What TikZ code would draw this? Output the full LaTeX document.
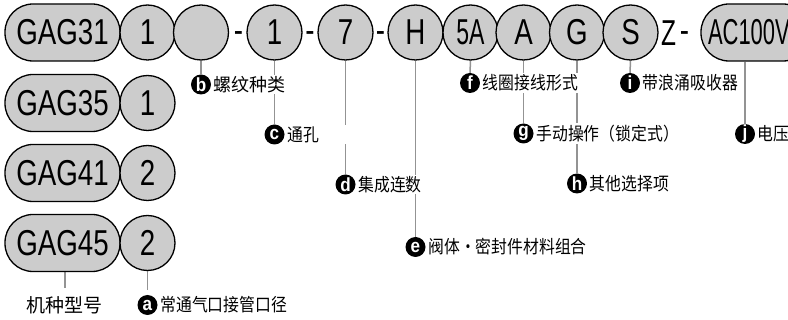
\documentclass[tikz,border=0pt]{standalone}
\usepackage{fontspec}
\setmainfont{Liberation Sans}
\newfontfamily\condf[FakeStretch=0.77]{Liberation Sans}
\newfontfamily\condfB[FakeStretch=0.64]{Liberation Sans}
\newfontfamily\condfC[FakeStretch=0.61]{Liberation Sans}
\newfontfamily\condfZ[FakeStretch=0.68]{Liberation Sans}
\newfontfamily\badgefont[FakeStretch=0.9]{Liberation Sans Bold}
\newfontfamily\cjkn[FakeStretch=0.88]{Noto Sans CJK SC}
\newfontfamily\cjkw{Noto Sans CJK SC}
\newcommand{\bigf}{\condf\fontsize{36}{40}\selectfont}
\definecolor{segfill}{HTML}{CCCCCC}
\definecolor{leadgray}{HTML}{939393}
\pgfdeclarelayer{bg}
\pgfsetlayers{bg,main}
\tikzset{
  seg/.style={circle, draw=black, line width=1.3pt, fill=segfill, minimum size=55pt, inner sep=0pt, font=\bigf},
  model/.style={rectangle, rounded corners=28pt, draw=black, line width=1.3pt, fill=segfill, minimum width=115pt, minimum height=57pt, inner sep=0pt, font=\bigf},
  sep/.style={inner sep=0pt, anchor=base, font=\bigf},
  badge/.style={circle, fill=black, text=white, minimum size=20pt, inner sep=0pt, font=\badgefont\fontsize{19}{20}\selectfont},
  lbl/.style={anchor=west, fill=white, inner xsep=2.5pt, inner ysep=1.5pt, font=\cjkn\fontsize{18}{20}\selectfont},
  lead/.style={draw=leadgray, line width=1.5pt}
}
\begin{document}
\begin{tikzpicture}[x=1pt,y=-1pt]
\useasboundingbox (0,0) rectangle (788,320);
% row 1
\node[model] (m1) at (62.5,32.5) {GAG31};
\node[seg] (s1a) at (147.5,32.5) {1};
\node[seg] (s1b) at (201,32.5) {};
\node[sep] (h1) at (238.5,43) {-};
\node[seg] (s1c) at (274.5,32.5) {1};
\node[sep] (h2) at (310,43) {-};
\node[seg] (s1d) at (345.5,32.5) {7};
\node[sep] (h3) at (380.5,43) {-};
\node[seg] (s1e) at (415.5,32.5) {H};
\node[seg, font=\condfB\fontsize{36}{40}\selectfont] (s1f) at (470.5,32.5) {5A};
\node[seg] (s1g) at (523.5,32.5) {A};
\node[seg] (s1h) at (577,32.5) {G};
\node[seg] (s1i) at (630.5,32.5) {S};
\node[sep, font=\condfZ\fontsize{36}{40}\selectfont] (z) at (668.5,45.4) {Z};
\node[sep] (h4) at (684.5,43) {-};
\node[model, minimum width=110pt, font=\condfC\fontsize{36}{40}\selectfont, text width=100pt, align=left, inner xsep=0pt] (ac) at (756,32.5) {\hspace*{2pt}AC100V};
% rows 2-4
\node[model] (m2) at (62.5,103) {GAG35};
\node[seg] (s2) at (147.5,103) {1};
\node[model] (m3) at (62.5,173) {GAG41};
\node[seg] (s3) at (147.5,173) {2};
\node[model] (m4) at (62.5,243) {GAG45};
\node[seg] (s4) at (147.5,243) {2};
% badges and labels
\node[badge] (ba) at (147.5,305) {a};
\node[lbl, font=\cjkn\fontsize{18}{20}\selectfont] (ta) at (ba.east) {常通气口接管口径};
\node[badge] (bb) at (201,84.5) {b};
\node[lbl, font=\cjkw\fontsize{18}{20}\selectfont] (tb) at (bb.east) {螺纹种类};
\node[badge] (bc) at (274.5,134.5) {c};
\node[lbl, text width=58pt, align=left] (tc) at (bc.east) {通孔};
\node[badge] (bd) at (345.5,184.5) {d};
\node[lbl] (td) at (bd.east) {集成连数};
\node[badge] (be) at (415.5,247) {e};
\node[lbl] (te) at (be.east) {阀体・密封件材料组合};
\node[badge] (bf) at (470,83) {f};
\node[lbl] (tf) at (bf.east) {线圈接线形式};
\node[badge] (bg) at (523.5,133.5) {g};
\node[lbl] (tg) at (bg.east) {手动操作（锁定式）};
\node[badge] (bh) at (577,183.5) {h};
\node[lbl] (th) at (bh.east) {其他选择项};
\node[badge] (bi) at (630,83) {i};
\node[lbl] (ti) at (bi.east) {带浪涌吸收器};
\node[badge] (bj) at (745,134) {j};
\node[lbl] (tj) at (bj.east) {电压};
\node[font=\cjkw\fontsize{19}{20}\selectfont, inner sep=0pt] (tm) at (65,305) {机种型号};
% leaders
\begin{pgfonlayer}{bg}
\draw[lead, shorten >=8pt] (tm.north |- m4.south) -- (tm.north);
\draw[lead, shorten >=5pt] (s4.south) -- (ba.north);
\draw[lead] (s1b.south) -- (bb.north);
\draw[lead] (s1c.south) -- (bc.north);
\draw[lead] (s1d.south) -- (bd.north);
\draw[lead] (s1e.south) -- (be.north);
\draw[lead] (s1f.south) -- (bf.north);
\draw[lead] (s1g.south) -- (bg.north);
\draw[lead] (s1h.south) -- (bh.north);
\draw[lead] (s1i.south) -- (bi.north);
\draw[lead] (bj.north |- ac.south) -- (bj.north);
\end{pgfonlayer}
\end{tikzpicture}
\end{document}
